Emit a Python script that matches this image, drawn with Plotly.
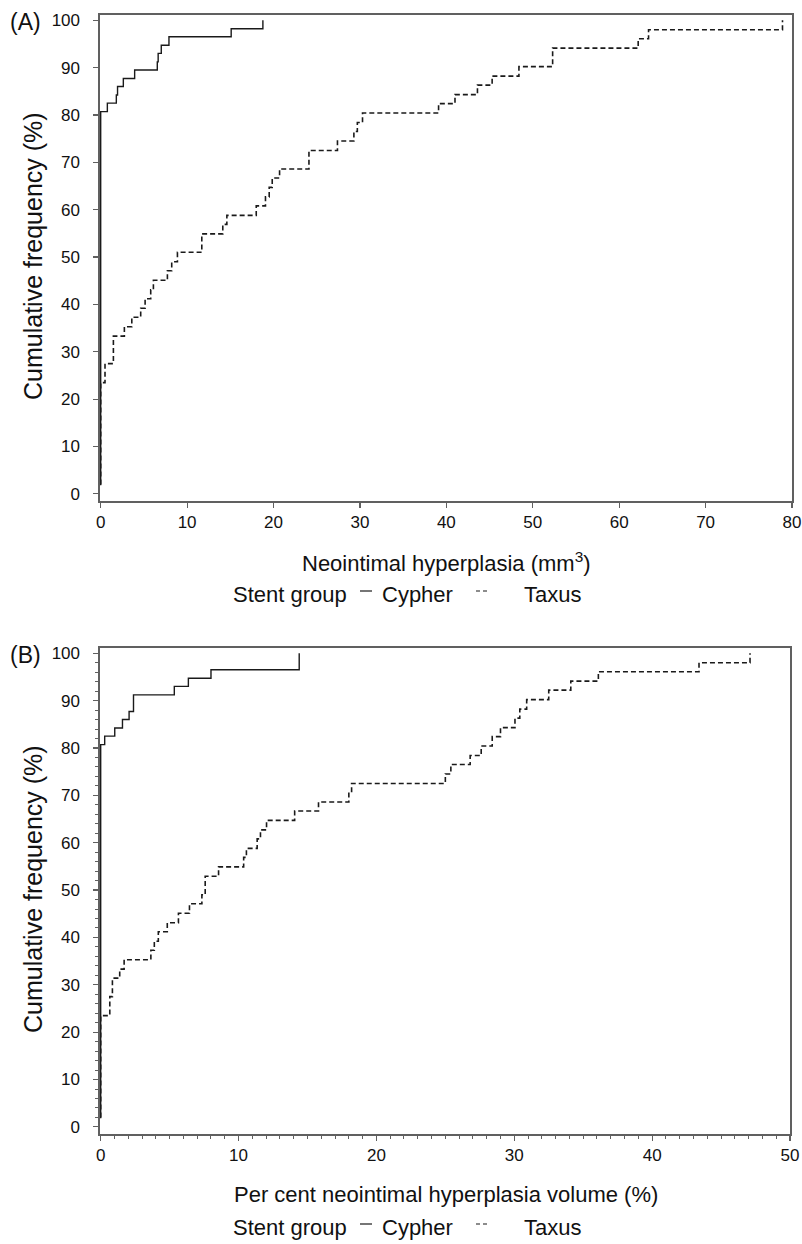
import plotly.graph_objects as go

# ---------------- Data ----------------
# Panel A: Neointimal hyperplasia (mm3) - cumulative frequency (%)
a_cypher_x = [0, 0, 0.77, 1.81, 1.95, 2.62, 3.93, 6.55, 6.65, 7.01, 7.9, 15.1, 18.77]
a_cypher_y = [1.8, 80.7, 82.5, 84.2, 86.0, 87.7, 89.5, 91.2, 93.0, 94.7, 96.5, 98.2, 100]

a_taxus_x = [0, 0, 0.5, 1.47, 2.74, 3.6, 4.63, 5.14, 5.79, 6.1, 7.72, 8.22, 8.88, 11.7,
             14.13, 14.6, 18.0, 19.07, 19.5, 19.85, 20.7, 24.1, 27.4, 29.3, 29.7, 30.3,
             39.1, 41.0, 43.6, 45.3, 48.4, 52.3, 62.2, 63.4, 78.9]
a_taxus_y = [2.0, 23.5, 27.5, 33.3, 35.3, 37.3, 39.2, 41.2, 43.1, 45.1, 47.1, 49.0, 51.0, 54.9,
             56.9, 58.8, 60.8, 62.7, 64.7, 66.7, 68.6, 72.5, 74.5, 76.5, 78.4, 80.4,
             82.4, 84.3, 86.3, 88.2, 90.2, 94.1, 96.1, 98.0, 100]

# Panel B: Per cent neointimal hyperplasia volume (%)
b_cypher_x = [0, 0, 0.29, 1.02, 1.58, 2.06, 2.38, 5.34, 6.36, 8.0, 14.4]
b_cypher_y = [1.8, 80.7, 82.5, 84.2, 86.0, 87.7, 91.2, 93.0, 94.7, 96.5, 100]

b_taxus_x = [0, 0, 0.66, 0.85, 1.38, 1.70, 3.64, 3.89, 4.18, 4.83, 5.64, 6.44, 7.34, 7.58,
             8.55, 10.37, 10.57, 11.35, 11.59, 12.03, 14.07, 15.8, 18.0, 18.2, 25.0, 25.4,
             26.8, 27.6, 28.4, 29.0, 30.05, 30.4, 30.9, 32.5, 34.1, 36.1, 43.4, 47.1]
b_taxus_y = [2.0, 23.5, 27.5, 31.4, 33.3, 35.3, 37.3, 39.2, 41.2, 43.1, 45.1, 47.1, 49.0, 52.9,
             54.9, 56.9, 58.8, 60.8, 62.7, 64.7, 66.7, 68.6, 70.6, 72.5, 74.5, 76.5,
             78.4, 80.4, 82.4, 84.3, 86.3, 88.2, 90.2, 92.2, 94.1, 96.1, 98.0, 100]

y_ticks = [0, 10, 20, 30, 40, 50, 60, 70, 80, 90, 100]
a_x_ticks = [0, 10, 20, 30, 40, 50, 60, 70, 80]
b_x_ticks = [0, 10, 20, 30, 40, 50]

y_title = "Cumulative frequency (%)"
a_x_title = "Neointimal hyperplasia (mm<sup>3</sup>)"
b_x_title = "Per cent neointimal hyperplasia volume (%)"
legend_title = "Stent group"
series_names = ["Cypher", "Taxus"]

# ---------------- Layout helpers ----------------
W, H = 802, 1244
FONT = "Liberation Sans, Arial, sans-serif"
LINE = "#1a1a1a"
FRAME = "#606060"
DASH = "5px,3px"


def px(x):
    return x / W


def py(y):
    return 1 - y / H


fig = go.Figure()
for xs, ys, dash, wid, xa, ya in [
    (a_cypher_x, a_cypher_y, "solid", 1.4, "x", "y"),
    (a_taxus_x, a_taxus_y, DASH, 1.6, "x", "y"),
    (b_cypher_x, b_cypher_y, "solid", 1.4, "x2", "y2"),
    (b_taxus_x, b_taxus_y, DASH, 1.6, "x2", "y2"),
]:
    fig.add_trace(go.Scatter(
        x=xs, y=ys, mode="lines", xaxis=xa, yaxis=ya, showlegend=False,
        line=dict(shape="hv", color=LINE, width=wid, dash=dash),
        hoverinfo="skip",
    ))

axis_common = dict(
    showline=True, mirror=True, linecolor=FRAME, linewidth=1.6,
    ticks="outside", ticklen=5, tickcolor=FRAME, tickwidth=1.2,
    showgrid=False, zeroline=False,
    tickfont=dict(family=FONT, size=17, color="#111"),
)

A_TOP, A_BOT = 15, 501
B_TOP, B_BOT = 648, 1134
Y_RANGE = [-1.5, 101.1]

fig.update_layout(
    width=W, height=H,
    margin=dict(l=0, r=0, t=0, b=0, autoexpand=False),
    paper_bgcolor="white", plot_bgcolor="white",
    hovermode=False,
    xaxis=dict(domain=[px(100), px(792)], anchor="y", range=[-0.08, 80],
               tickvals=a_x_ticks, **axis_common),
    yaxis=dict(domain=[py(A_BOT), py(A_TOP)], anchor="x", range=Y_RANGE,
               tickvals=y_ticks, ticklabelstandoff=10, **axis_common),
    xaxis2=dict(domain=[px(100), px(790)], anchor="y2", range=[-0.05, 50],
                tickvals=b_x_ticks,
                minor=dict(dtick=1, ticks="outside", ticklen=3, tickcolor=FRAME, tickwidth=1),
                **axis_common),
    yaxis2=dict(domain=[py(B_BOT), py(B_TOP)], anchor="x2", range=Y_RANGE,
                tickvals=y_ticks, ticklabelstandoff=10,
                minor=dict(dtick=2, ticks="outside", ticklen=3, tickcolor=FRAME, tickwidth=1),
                **axis_common),
)

ann = []
shapes = []


def text(x, y, s, size=22, xanchor="center", angle=0):
    ann.append(dict(x=px(x), y=py(y), xref="paper", yref="paper", text=s,
                    showarrow=False, xanchor=xanchor, yanchor="middle",
                    textangle=angle, font=dict(family=FONT, size=size, color="#111")))


for label, top, bottom, xt, xtitle_y, leg_y in [
    ("(A)", A_TOP, A_BOT, a_x_title, 562, 594),
    ("(B)", B_TOP, B_BOT, b_x_title, 1194, 1227),
]:
    text(25, top + 7, label, size=23)
    text(33, (top + bottom) / 2 - 2, y_title, size=25, angle=-90)
    text(446, xtitle_y, xt, size=22)
    text(231, leg_y, legend_title, size=22, xanchor="left")
    text(380, leg_y, series_names[0], size=22, xanchor="left")
    text(522, leg_y, series_names[1], size=22, xanchor="left")
    shapes.append(dict(type="line", xref="paper", yref="paper",
                       x0=px(360), x1=px(372), y0=py(leg_y - 3), y1=py(leg_y - 3),
                       line=dict(color=LINE, width=1.2)))
    shapes.append(dict(type="line", xref="paper", yref="paper",
                       x0=px(476), x1=px(488), y0=py(leg_y - 3), y1=py(leg_y - 3),
                       line=dict(color=LINE, width=1.2, dash="4px,3px")))

fig.update_layout(annotations=ann, shapes=shapes)
fig.write_html("out.html",
               config={"displayModeBar": False, "staticPlot": True},
               post_script="document.body.style.margin='0px';document.body.style.overflow='hidden';")
